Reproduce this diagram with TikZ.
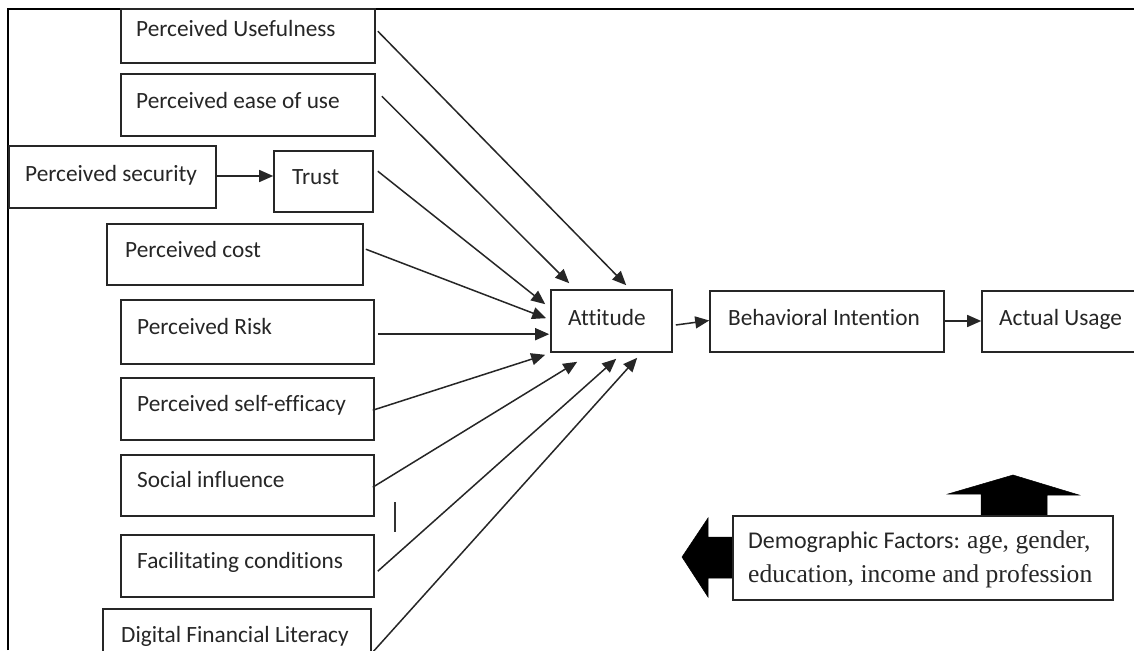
\documentclass[tikz,border=0pt]{standalone}
\usepackage{fontspec}
\setmainfont{Carlito}[Ligatures=NoCommon]
\newfontfamily\seriffont{Liberation Serif}
\usetikzlibrary{arrows.meta,fit,calc}
\tikzset{
  box/.style={draw=black!85, line width=1.6pt, inner sep=0pt, rectangle, fill=white},
  lbl/.style={anchor=mid west, inner sep=0pt, font=\fontsize{23.3}{28}\selectfont, text=black!85},
  conn/.style={draw=black!85, line width=1.5pt, -{Triangle[length=14pt,width=12pt]}},
  frame/.style={draw=black, line width=1.4pt},
  blockarrow/.style={fill=black, draw=black, line width=0.5pt}
}
\begin{document}
\begin{tikzpicture}[x=1pt,y=-1pt]
\useasboundingbox (0,0) rectangle (1134,650);
\clip (0,0) rectangle (1134,650);
\fill[white] (0,0) rectangle (1134,650);
% frame
\coordinate (fa) at (8,650);
\coordinate (fb) at (8,9);
\coordinate (fc) at (1134,9);
\draw[frame] (fa) -- (fb) -- (fc);
% boxes
\node[box, fit={(121,9)(375,63)}] (pu) {};
\node[box, fit={(121,74)(375,136)}] (peou) {};
\node[box, fit={(9,146)(216,208)}] (ps) {};
\node[box, fit={(274,151)(373,212)}] (trust) {};
\node[box, fit={(107,224)(363,285)}] (cost) {};
\node[box, fit={(121,300)(374,364)}] (risk) {};
\node[box, fit={(121,378)(374,440)}] (se) {};
\node[box, fit={(121,455)(374,516)}] (si) {};
\node[box, fit={(121,535)(374,597)}] (fc) {};
\node[box, fit={(103,609)(371,662)}] (dfl) {};
\node[box, fit={(551,290)(672,352)}] (att) {};
\node[box, fit={(710,291)(944,352)}] (bi) {};
\node[box, fit={(982,291)(1145,352)}] (au) {};
% labels
\node[lbl] at (136,34) {Perceived Usefulness};
\node[lbl] at (136,106) {Perceived ease of use};
\node[lbl] at (25,179) {Perceived security};
\node[lbl] at (292,182) {Trust};
\node[lbl] at (125,255) {Perceived cost};
\node[lbl] at (137,332) {Perceived Risk};
\node[lbl] at (137,409) {Perceived self-efficacy};
\node[lbl] at (137,485) {Social influence};
\node[lbl] at (137,566) {Facilitating conditions};
\node[lbl] at (121,640) {Digital Financial Literacy};
\node[lbl] at (568,323) {Attitude};
\node[lbl] at (728,323) {Behavioral Intention};
\node[lbl] at (999,323) {Actual Usage};
% connectors
\draw[conn] (ps.east |- 0,176) -- (trust.west |- 0,176);
\draw[conn] ($(pu.north east)+(2,23)$) -- ($(att.north west)+(76,-4)$);
\draw[conn] ($(peou.north east)+(6,23)$) -- ($(att.north west)+(19,-6)$);
\draw[conn] ($(trust.north east)+(4,21)$) -- ($(att.north west)+(-5,15)$);
\draw[conn] ($(cost.north east)+(2,26)$) -- ($(att.north west)+(-4,29)$);
\draw[conn] ($(risk.north east)+(3,35)$) -- ($(att.north west)+(-1,45)$);
\draw[conn] ($(se.north east)+(-2,33)$) -- ($(att.south west)+(-5,2)$);
\draw[conn] ($(si.north east)+(-2,33)$) -- ($(att.south west)+(27,9)$);
\draw[conn] ($(fc.north east)+(3,37)$) -- ($(att.south west)+(66,6)$);
\draw[conn] ($(dfl.north east)+(0,45)$) -- ($(att.south west)+(87,5)$);
\draw[conn] ($(att.east)+(3,4)$) -- ($(bi.west)+(0,-1)$);
\draw[conn] (bi.east |- 0,321) -- (au.west |- 0,321);
% stray mark
\coordinate (s1) at (395,502);
\coordinate (s2) at (395,532);
\draw[draw=black!80, line width=1.4pt] (s1) -- (s2);
% demographic block arrows
\fill[blockarrow] (981,517) -- (981,494) -- (948,494) -- (1013,475) -- (1079,495) -- (1047,495) -- (1047,517) -- cycle;
\fill[blockarrow] (734,537) -- (708,537) -- (708,518) -- (682,557) -- (708,597) -- (708,578) -- (734,578) -- cycle;
\node[box, fit={(733,516)(1113,600)}] (demo) {};
\node[lbl, font=\fontsize{24}{28}\selectfont] (d1) at (748,546) {Demographic Factors: {\seriffont\fontsize{25.6}{28}\selectfont age, gender,}};
\node[lbl, font=\seriffont\fontsize{25.6}{28}\selectfont] (d2) at (748,580) {education, income and profession};
\end{tikzpicture}
\end{document}
